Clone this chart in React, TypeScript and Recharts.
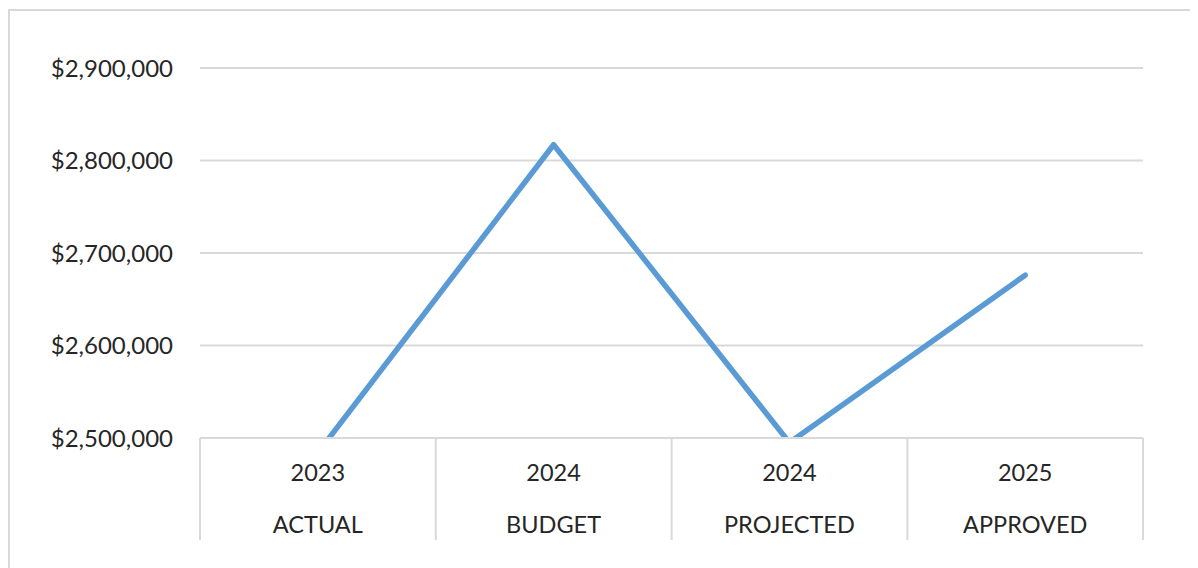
import { LineChart, Line, XAxis, YAxis, CartesianGrid } from "recharts";

const years = ["2023", "2024", "2024", "2025"];
const kinds = ["ACTUAL", "BUDGET", "PROJECTED", "APPROVED"];
const amounts = [2484000, 2817000, 2495000, 2676000];
const yTicks = [2500000, 2600000, 2700000, 2800000, 2900000];

const data = kinds.map((kind, i) => ({ kind, year: years[i], amount: amounts[i] }));

const HALF_BAND = 117.8;
const FONT = "Lato, 'Open Sans', sans-serif";

const money = (v: number) => "$" + v.toLocaleString("en-US");

function CategoryTick(props: any) {
  const { x, y, payload, index } = props;
  const last = index === kinds.length - 1;
  return (
    <g>
      <line x1={x - HALF_BAND} y1={y} x2={x - HALF_BAND} y2={y + 102} stroke="#d9d9d9" strokeWidth={2} />
      {last && (
        <line x1={x + HALF_BAND} y1={y} x2={x + HALF_BAND} y2={y + 102} stroke="#d9d9d9" strokeWidth={2} />
      )}
      <text x={x} y={y + 43} textAnchor="middle" fill="#262626" fontSize={23.5} fontFamily={FONT}>
        {years[index]}
      </text>
      <text x={x} y={y + 95} textAnchor="middle" fill="#262626" fontSize={23.5} fontFamily={FONT}>
        {payload.value}
      </text>
    </g>
  );
}

export default function App() {
  return (
    <div
      style={{
        marginTop: 1,
        width: 1200,
        height: 570,
        border: "2px solid #d9d9d9",
        background: "#fff",
      }}
    >
      <LineChart width={1190} height={545} data={data} margin={{ top: 57, right: 57, left: 0, bottom: 8 }}>
        <CartesianGrid vertical={false} stroke="#d9d9d9" strokeWidth={2} />
        <XAxis
          dataKey="kind"
          height={110}
          padding={{ left: HALF_BAND, right: HALF_BAND }}
          axisLine={{ stroke: "#d9d9d9", strokeWidth: 2 }}
          tickLine={false}
          tickSize={0}
          tickMargin={0}
          interval={0}
          tick={<CategoryTick />}
        />
        <YAxis
          width={190}
          domain={[2500000, 2900000]}
          ticks={yTicks}
          allowDataOverflow
          axisLine={false}
          tickLine={false}
          tickSize={0}
          tickMargin={27}
          tickFormatter={money}
          tick={{ fill: "#262626", fontSize: 24, fontFamily: FONT }}
        />
        <Line
          type="linear"
          dataKey="amount"
          stroke="#5b9bd5"
          strokeWidth={5.5}
          strokeLinecap="round"
          strokeLinejoin="round"
          dot={false}
          activeDot={false}
          isAnimationActive={false}
        />
      </LineChart>
    </div>
  );
}
